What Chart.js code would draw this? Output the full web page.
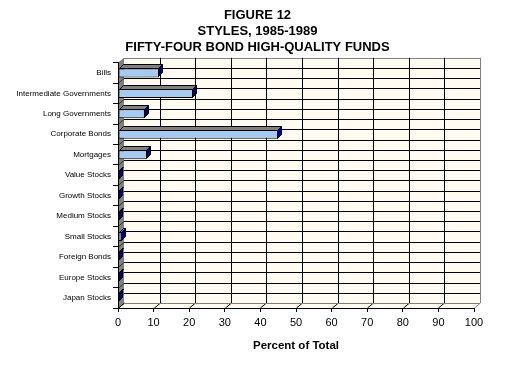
<!DOCTYPE html>
<html>
<head>
<meta charset="utf-8">
<script src="https://cdn.jsdelivr.net/npm/chart.js@4"></script>
<style>
  html, body { margin: 0; padding: 0; background: #fff; }
  #wrap { width: 505px; height: 383px; }
</style>
</head>
<body>
<div id="wrap"><canvas id="styles"></canvas></div>
<script>
const categories = ['Bills', 'Intermediate Governments', 'Long Governments', 'Corporate Bonds',
    'Mortgages', 'Value Stocks', 'Growth Stocks', 'Medium Stocks', 'Small Stocks',
    'Foreign Bonds', 'Europe Stocks', 'Japan Stocks'];
const percentOfTotal = [11.5, 21.1, 7.5, 45.0, 8.1, 0.3, 0.3, 0.3, 1.0, 0.3, 0.3, 0.3];
const titleLines = ['FIGURE 12', 'STYLES, 1985-1989', 'FIFTY-FOUR BOND HIGH-QUALITY FUNDS'];
const xTitle = 'Percent of Total';

const WALL = '#FFFBF0';
const SIDE = '#808080';
const DX = 6, DY = 5;   // depth of the walls
const BD = 4;           // depth of the bars

function poly(ctx, pts, fill, stroke) {
    ctx.beginPath();
    ctx.moveTo(pts[0][0], pts[0][1]);
    for (let i = 1; i < pts.length; i++) ctx.lineTo(pts[i][0], pts[i][1]);
    ctx.closePath();
    if (fill) { ctx.fillStyle = fill; ctx.fill(); }
    if (stroke) { ctx.strokeStyle = stroke; ctx.lineWidth = 1; ctx.stroke(); }
}

function line(ctx, x1, y1, x2, y2, color) {
    ctx.beginPath();
    ctx.moveTo(x1, y1);
    ctx.lineTo(x2, y2);
    ctx.strokeStyle = color;
    ctx.lineWidth = 1;
    ctx.stroke();
}

// back wall, floor, side wall and their grid lines
const walls3d = {
    id: 'walls3d',
    beforeDraw(chart) {
        const { ctx, chartArea: a, scales: { x, y } } = chart;
        ctx.save();
        poly(ctx, [[a.left + DX, a.top - DY], [a.right + DX, a.top - DY], [a.right + DX, a.bottom - DY], [a.left + DX, a.bottom - DY]], WALL);
        poly(ctx, [[a.left, a.bottom], [a.right, a.bottom], [a.right + DX, a.bottom - DY], [a.left + DX, a.bottom - DY]], WALL);
        poly(ctx, [[a.left, a.top], [a.left + DX, a.top - DY], [a.left + DX, a.bottom - DY], [a.left, a.bottom]], SIDE);

        // horizontal lines every half category
        const n = chart.data.labels.length;
        for (let k = 0; k <= 2 * n; k++) {
            const yy = Math.round(y.getPixelForValue(k / 2 - 0.5)) + 0.5;
            const c = (k === 0) ? SIDE : '#000';
            line(ctx, a.left + DX, yy - DY, a.right + DX, yy - DY, c);
            line(ctx, a.left, yy, a.left + DX, yy - DY, k === 0 ? SIDE : '#333');
        }
        // vertical lines at value ticks
        x.ticks.forEach((t, i) => {
            const xx = Math.round(x.getPixelForValue(t.value)) + 0.5;
            const last = i === x.ticks.length - 1;
            if (i > 0) line(ctx, xx + DX, a.top - DY, xx + DX, a.bottom - DY, last ? SIDE : '#000');
            line(ctx, xx, a.bottom, xx + DX, a.bottom - DY, last ? SIDE : '#000');
        });
        line(ctx, a.left + DX, a.bottom - DY + 0.5, a.right + DX, a.bottom - DY + 0.5, SIDE);
        ctx.restore();
    },
    afterDatasetsDraw(chart) {
        const ctx = chart.ctx;
        ctx.save();
        chart.getDatasetMeta(0).data.forEach(bar => {
            const { x: xe, y: yc, base, height } = bar.getProps(['x', 'y', 'base', 'height'], true);
            const t = Math.round(yc - height / 2) + 0.5;
            const b = Math.round(yc + height / 2) - 0.5;
            const l = Math.round(base) + 0.5;
            const r = Math.round(xe) - 0.5;
            poly(ctx, [[l, t], [r, t], [r + BD, t - BD], [l + BD, t - BD]], '#808080', '#000');
            poly(ctx, [[r, t], [r + BD, t - BD], [r + BD, b - BD], [r, b]], '#000080', '#000');
        });
        ctx.restore();
    }
};

Chart.defaults.color = '#000';
Chart.defaults.font.family = "'Liberation Sans', Arial, sans-serif";

new Chart(document.getElementById('styles'), {
    type: 'bar',
    data: {
        labels: categories,
        datasets: [{
            label: xTitle,
            data: percentOfTotal,
            backgroundColor: '#A6CAF0',
            borderColor: '#000',
            borderWidth: 1,
            borderSkipped: false,
            categoryPercentage: 1,
            barPercentage: 0.44
        }]
    },
    options: {
        indexAxis: 'y',
        responsive: true,
        maintainAspectRatio: false,
        animation: false,
        layout: { padding: { left: 10, right: 0, top: 0, bottom: 0 } },
        scales: {
            x: {
                min: 0,
                max: 100,
                ticks: { stepSize: 10, padding: 4, font: { size: 11 } },
                grid: { drawOnChartArea: false, drawTicks: true, tickLength: 4, color: '#000' },
                border: { color: '#000' },
                title: {
                    display: true,
                    text: xTitle,
                    font: { size: 11.5, weight: 'bold' },
                    padding: { top: 4, bottom: 30 }
                },
                afterFit: s => { s.height = 75; s.paddingRight = 31; }
            },
            y: {
                ticks: {
                    padding: 2,
                    font: { size: 8 }
                },
                grid: { drawOnChartArea: false, drawTicks: true, tickLength: 5, color: '#000', offset: true },
                border: { color: '#000' },
                afterFit: s => { s.width = 108; }
            }
        },
        plugins: {
            legend: { display: false },
            tooltip: { enabled: false },
            title: {
                display: true,
                text: titleLines,
                font: { size: 13, weight: 'bold', lineHeight: 1.25 },
                padding: { top: 7, bottom: 7 }
            }
        }
    },
    plugins: [walls3d]
});
</script>
</body>
</html>
